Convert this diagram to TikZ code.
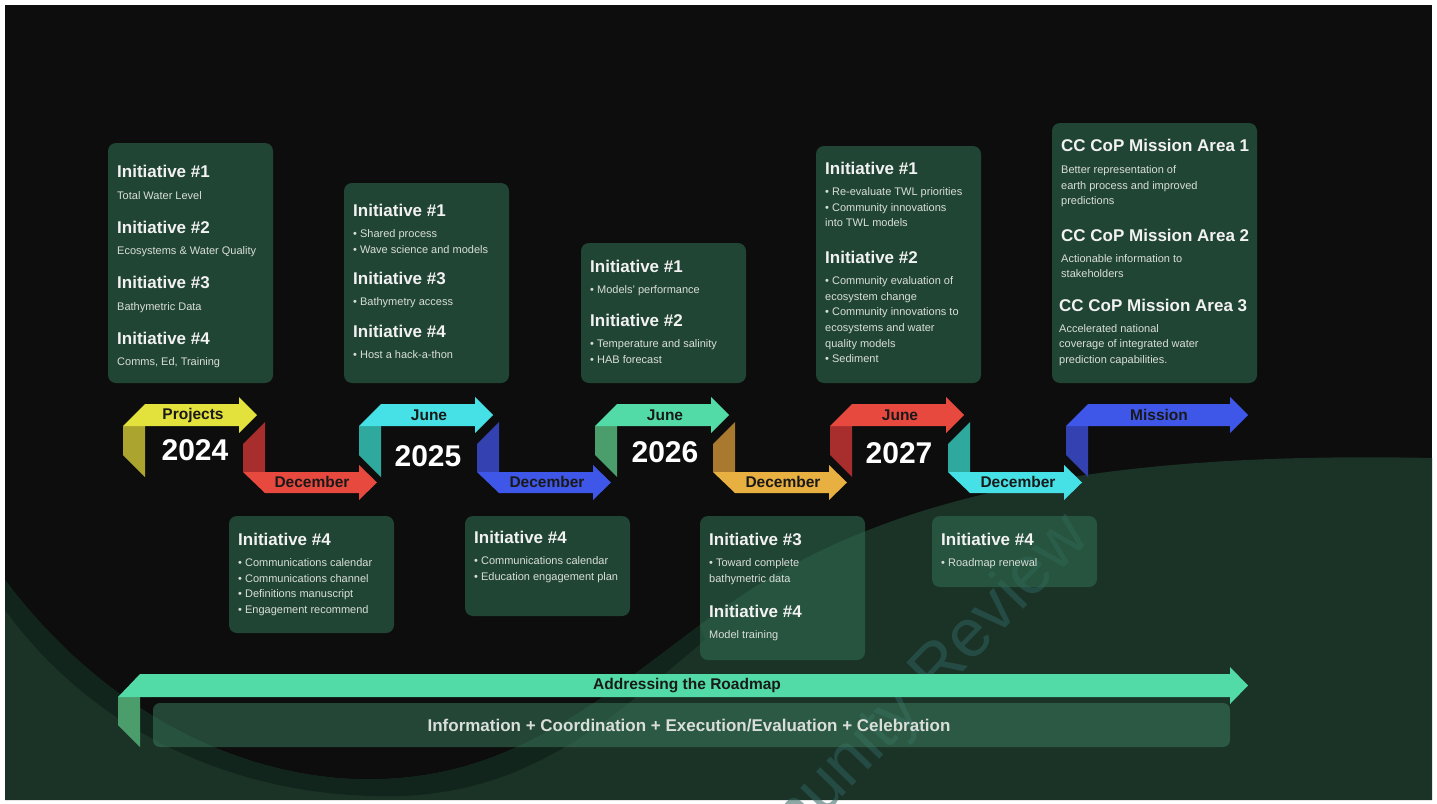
\documentclass[tikz,border=0pt]{standalone}
\usepackage{fontspec}
\setmainfont{Liberation Sans}
\definecolor{bgblack}{HTML}{0C0D0C}
\definecolor{bggreen}{HTML}{1B3327}
\definecolor{bgdark}{HTML}{12251C}
\definecolor{boxfill}{HTML}{2F6B4F}
\definecolor{barfill}{HTML}{3D7F60}
\definecolor{hdcol}{HTML}{F2F2F2}
\definecolor{bdcol}{HTML}{D9DEDB}
\definecolor{wmcol}{HTML}{2F615C}
\definecolor{yelB}{HTML}{E3E23D}\definecolor{yelF}{HTML}{ABA42F}
\definecolor{redB}{HTML}{E8493F}\definecolor{redF}{HTML}{A82E2E}
\definecolor{cyaB}{HTML}{46E1E6}\definecolor{cyaF}{HTML}{2FA89E}
\definecolor{bluB}{HTML}{3F57E8}\definecolor{bluF}{HTML}{3342B0}
\definecolor{grnB}{HTML}{52DBA6}\definecolor{grnF}{HTML}{4B9E6C}
\definecolor{oraB}{HTML}{E8AF41}\definecolor{oraF}{HTML}{A8792E}
\newcounter{tn}
\newcommand\hd[3]{\stepcounter{tn}\node[hdtext] (t\arabic{tn}) at (#1,#2+6) {#3};}
\newcommand\bd[3]{\stepcounter{tn}\node[bdtext] (t\arabic{tn}) at (#1,#2+4) {#3};}
\newcommand\uparr[4]{%
  \fill[#4] (#1,426) -- (#1+22,426) -- (#1+22,477) -- (#1,455) -- cycle;
  \fill[#3] (#1+22,404) -- (#2-18,404) -- (#2-18,397) -- (#2,415) -- (#2-18,433) -- (#2-18,426) -- (#1,426) -- cycle;}
\newcommand\dnarr[4]{%
  \fill[#4] (#1,444) -- (#1+22,422) -- (#1+22,472) -- (#1,472) -- cycle;
  \fill[#3] (#1,472) -- (#2-18,472) -- (#2-18,465) -- (#2,482.5) -- (#2-18,500) -- (#2-18,493) -- (#1+22,493) -- cycle;}
\begin{document}
\begin{tikzpicture}[x=1pt,y=-1pt,
  hdtext/.style={anchor=base west, inner sep=0pt, font=\bfseries\fontsize{17}{17}\selectfont, text=hdcol},
  bdtext/.style={anchor=base west, inner sep=0pt, font=\fontsize{11}{11}\selectfont, text=bdcol},
  lbl/.style={inner sep=0pt, font=\bfseries\fontsize{15.5}{15.5}\selectfont, text=black!90},
  year/.style={inner sep=0pt, font=\bfseries\fontsize{30}{30}\selectfont, text=white},
  infobox/.style={fill=boxfill, fill opacity=0.6, rounded corners=8pt},
  wm/.style={inner sep=0pt, anchor=base, rotate=46, font=\fontsize{68}{68}\selectfont, text=wmcol, text opacity=0.55}]
\useasboundingbox (0,0) rectangle (1437,803);
\fill[white] (0,0) rectangle (1437,803);
\fill[bgblack] (5,5) rectangle (1432,800);
% background wave
\fill[bggreen] (5,580) .. controls (110,720) and (260,790) .. (400,778) .. controls (520,768) and (600,700) .. (700,625) .. controls (850,510) and (1050,450) .. (1432,458) -- (1432,800) -- (5,800) -- cycle;
\fill[bgdark] (5,580) .. controls (110,720) and (260,790) .. (400,778) .. controls (520,768) and (600,700) .. (700,625)
  -- (705,640) .. controls (610,720) and (530,792) .. (400,796) .. controls (250,800) and (100,740) .. (5,610) -- cycle;
% watermark
\node[wm] (wmk) at (888,750) {Community Review};
% boxes
\path[infobox] (108,143) rectangle (273,383);
\path[infobox] (344,183) rectangle (509,383);
\path[infobox] (581,243) rectangle (746,383);
\path[infobox] (816,146) rectangle (981,383);
\path[infobox] (1052,123) rectangle (1257,383);
\path[infobox] (229,516) rectangle (394,633);
\path[infobox] (465,516) rectangle (630,616);
\path[infobox] (700,516) rectangle (865,660);
\path[infobox] (932,516) rectangle (1097,587);
% box A
\hd{117}{171}{Initiative \#1}
\bd{117}{195}{Total Water Level}
\hd{117}{227}{Initiative \#2}
\bd{117}{250}{Ecosystems \& Water Quality}
\hd{117}{282}{Initiative \#3}
\bd{117}{306}{Bathymetric Data}
\hd{117}{338}{Initiative \#4}
\bd{117}{361}{Comms, Ed, Training}
% box B
\hd{353}{210}{Initiative \#1}
\bd{353}{233}{• Shared process}
\bd{353}{249}{• Wave science and models}
\hd{353}{278}{Initiative \#3}
\bd{353}{301}{• Bathymetry access}
\hd{353}{331}{Initiative \#4}
\bd{353}{354}{• Host a hack-a-thon}
% box C
\hd{590}{266}{Initiative \#1}
\bd{590}{289}{• Models’ performance}
\hd{590}{320}{Initiative \#2}
\bd{590}{343}{• Temperature and salinity}
\bd{590}{359}{• HAB forecast}
% box D
\hd{825}{168}{Initiative \#1}
\bd{825}{191}{• Re-evaluate TWL priorities}
\bd{825}{207}{• Community innovations}
\bd{825}{222}{into TWL models}
\hd{825}{257}{Initiative \#2}
\bd{825}{280}{• Community evaluation of}
\bd{825}{296}{ecosystem change}
\bd{825}{311}{• Community innovations to}
\bd{825}{327}{ecosystems and water}
\bd{825}{343}{quality models}
\bd{825}{358}{• Sediment}
% box E
\hd{1061}{145}{CC CoP Mission Area 1}
\bd{1061}{169}{Better representation of}
\bd{1061}{185}{earth process and improved}
\bd{1061}{200}{predictions}
\hd{1061}{235}{CC CoP Mission Area 2}
\bd{1061}{258}{Actionable information to}
\bd{1061}{273}{stakeholders}
\hd{1059}{305}{CC CoP Mission Area 3}
\bd{1059}{328}{Accelerated national}
\bd{1059}{343}{coverage of integrated water}
\bd{1059}{359}{prediction capabilities.}
% box F
\hd{238}{539}{Initiative \#4}
\bd{238}{562}{• Communications calendar}
\bd{238}{578}{• Communications channel}
\bd{238}{593}{• Definitions manuscript}
\bd{238}{609}{• Engagement recommend}
% box G
\hd{474}{537}{Initiative \#4}
\bd{474}{560}{• Communications calendar}
\bd{474}{576}{• Education engagement plan}
% box H
\hd{709}{539}{Initiative \#3}
\bd{709}{562}{• Toward complete}
\bd{709}{578}{bathymetric data}
\hd{709}{611}{Initiative \#4}
\bd{709}{634}{Model training}
% box I
\hd{941}{539}{Initiative \#4}
\bd{941}{562}{• Roadmap renewal}
% timeline arrows
\uparr{123}{257}{yelB}{yelF}
\dnarr{243}{377}{redB}{redF}
\uparr{359}{493}{cyaB}{cyaF}
\dnarr{477}{611}{bluB}{bluF}
\uparr{595}{729}{grnB}{grnF}
\dnarr{713}{847}{oraB}{oraF}
\uparr{830}{964}{redB}{redF}
\dnarr{948}{1082}{cyaB}{cyaF}
\uparr{1066}{1248}{bluB}{bluF}
\node[lbl] (lproj) at (193,415) {Projects};
\node[lbl] (ljun1) at (429,415) {June};
\node[lbl] (ljun2) at (665,415) {June};
\node[lbl] (ljun3) at (900,415) {June};
\node[lbl] (lmis) at (1159,415) {Mission};
\node[lbl] (ldec1) at (312,482) {December};
\node[lbl] (ldec2) at (547,482) {December};
\node[lbl] (ldec3) at (783,482) {December};
\node[lbl] (ldec4) at (1018,482) {December};
\node[year] (y24) at (195,450) {2024};
\node[year] (y25) at (428,456) {2025};
\node[year] (y26) at (665,452) {2026};
\node[year] (y27) at (899,453) {2027};
% roadmap arrow
\fill[grnF] (118,697) -- (140,697) -- (140,747) -- (118,725) -- cycle;
\fill[grnB] (140,674) -- (1230,674) -- (1230,667) -- (1248,685.5) -- (1230,704) -- (1230,697) -- (118,697) -- cycle;
\node[lbl] (lroad) at (687,685.5) {Addressing the Roadmap};
\path[fill=barfill, fill opacity=0.5, rounded corners=7pt] (153,703) rectangle (1230,747);
\node[inner sep=0pt, font=\bfseries\fontsize{17}{17}\selectfont, text=bdcol] (info) at (689,726) {Information + Coordination + Execution/Evaluation + Celebration};
\end{tikzpicture}
\end{document}
